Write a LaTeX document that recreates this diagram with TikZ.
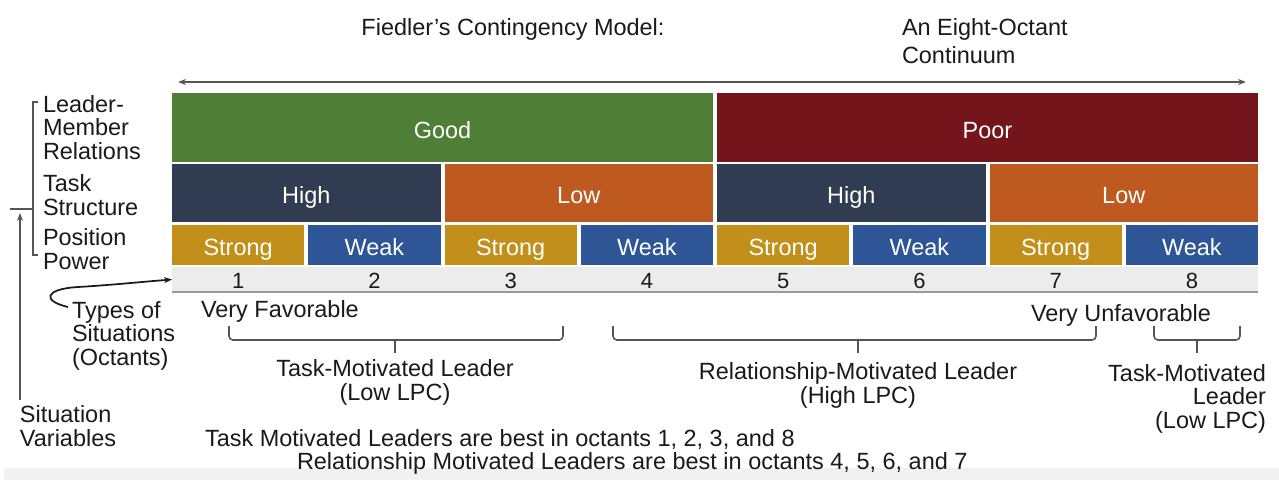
\documentclass[tikz,border=0pt]{standalone}
\usepackage{fontspec}
\setmainfont{Liberation Sans}
\usetikzlibrary{arrows.meta}
\definecolor{cgood}{HTML}{4F7F37}
\definecolor{cpoor}{HTML}{74151B}
\definecolor{cnavy}{HTML}{2F3C52}
\definecolor{corange}{HTML}{BE5A20}
\definecolor{cgold}{HTML}{C28F1B}
\definecolor{cblue}{HTML}{2E5596}
\definecolor{crow}{HTML}{ECECEC}
\definecolor{cline}{HTML}{555555}
\definecolor{ctext}{HTML}{1A1A1A}
\definecolor{cstrip}{HTML}{F1F1F1}
\begin{document}
\begin{tikzpicture}[x=0.75pt,y=-0.75pt,
  every node/.style={inner sep=0pt, outer sep=0pt, text=ctext},
  font=\fontsize{17.6pt}{17.3pt}\selectfont,
  cell/.style={text=white, anchor=center, text height=16pt, text depth=0pt, align=center},
  lbl/.style={anchor=base west, align=left},
  clbl/.style={anchor=base, align=center},
  rlbl/.style={anchor=base east, align=right},
  num/.style={anchor=base, font=\fontsize{16.5pt}{16.5pt}\selectfont},
  grayline/.style={draw=cline, line width=1.3pt},
  brk/.style={draw=cline, line width=1.2pt, rounded corners=3pt},
  tip/.style={-{Stealth[length=6pt,width=4.5pt]}}
]
\useasboundingbox (0,0) rectangle (1279,480);
\fill[white] (0,0) rectangle (1279,480);
\fill[cstrip] (4,468) rectangle (1279,480);

% title (base anchor of a multi-line node = last line)
\node[clbl] (title) at (513,35) {Fiedler’s Contingency Model:};
\node[lbl, font=\fontsize{17.6pt}{21pt}\selectfont] (title2) at (902,63) {An Eight-Octant\\Continuum};

% continuum arrow
\coordinate (aL) at (178,82);
\coordinate (aR) at (1246,82);
\draw[grayline, {Stealth[length=6pt,width=4.5pt]}-{Stealth[length=6pt,width=4.5pt]}] (aL) -- (aR);

% row 1: leader-member relations
\node[cell, fill=cgood, minimum width=405.75pt, minimum height=51.75pt] (r1a) at (442.5,127.5) {Good};
\node[cell, fill=cpoor, minimum width=405.75pt, minimum height=51.75pt] (r1b) at (987.5,127.5) {Poor};

% row 2: task structure
\foreach \j/\t/\c in {1/High/cnavy,2/Low/corange,3/High/cnavy,4/Low/corange}{
  \node[cell, fill=\c, minimum width=201.375pt, minimum height=43.5pt] (r2\j) at ({306.25+(\j-1)*272.5},193) {\t};
}

% row 3: position power
\foreach \i/\t/\c in {1/Strong/cgold,2/Weak/cblue,3/Strong/cgold,4/Weak/cblue,5/Strong/cgold,6/Weak/cblue,7/Strong/cgold,8/Weak/cblue}{
  \node[cell, fill=\c, minimum width=99.19pt, minimum height=30pt] (r3\i) at ({238.125+(\i-1)*136.25},245) {\t};
}

% octant number row
\node[fill=crow, minimum width=814.5pt, minimum height=18.75pt] (bar) at (715,279.5) {};
\draw[draw=gray!80, line width=1.2pt] (bar.south west) -- (bar.south east);
\foreach \i in {1,...,8}{
  \node[num] (n\i) at ({238.125+(\i-1)*136.25},288.5) {\i};
}

% left labels
\node[lbl] (lmr) at (43,159) {Leader-\\Member\\Relations};
\node[lbl] (ts) at (43,215) {Task\\Structure};
\node[lbl] (pp) at (43,269) {Position\\Power};
\node[lbl] (types) at (72,365) {Types of\\Situations\\(Octants)};
\node[lbl] (sv) at (20,446) {Situation\\Variables};

% left bracket
\draw[grayline] (38,102) -- (33,102) -- (33,255) -- (38,255);
\draw[grayline] (10,209) -- (33,209);
\coordinate (svtail) at (20,400);
\coordinate (svtip) at (20,213);
\draw[grayline, tip] (svtail) -- (svtip);

% curved arrow to octant row
\coordinate (cstart) at (68,307);
\draw[line width=1.3pt, draw=ctext, tip] (cstart) .. controls (42,301) and (44,289) .. (78,287) .. controls (112,285) and (140,282) .. (bar.west);

% favorability labels
\node[lbl] (vf) at (201,317) {Very Favorable};
\node[clbl] (vu) at (1121,321) {Very Unfavorable};

% braces
\draw[brk] (229,326) -- (229,340) -- (563,340) -- (563,326);
\draw[grayline, line width=1.2pt] (395,340) -- (395,353);
\draw[brk] (613,326) -- (613,340) -- (1096,340) -- (1096,326);
\draw[grayline, line width=1.2pt] (858,340) -- (858,353);
\draw[brk] (1154,326) -- (1154,340) -- (1240,340) -- (1240,326);
\draw[grayline, line width=1.2pt] (1197,340) -- (1197,353);

\node[clbl] (tml) at (395,400) {Task-Motivated Leader\\(Low LPC)};
\node[clbl] (rml) at (858,403) {Relationship-Motivated Leader\\(High LPC)};
\node[rlbl] (tml2) at (1266,428) {Task-Motivated\\Leader\\(Low LPC)};

% bottom notes
\node[lbl] (note1) at (205,446) {Task Motivated Leaders are best in octants 1, 2, 3, and 8};
\node[lbl] (note2) at (297,469) {Relationship Motivated Leaders are best in octants 4, 5, 6, and 7};
\end{tikzpicture}
\end{document}
